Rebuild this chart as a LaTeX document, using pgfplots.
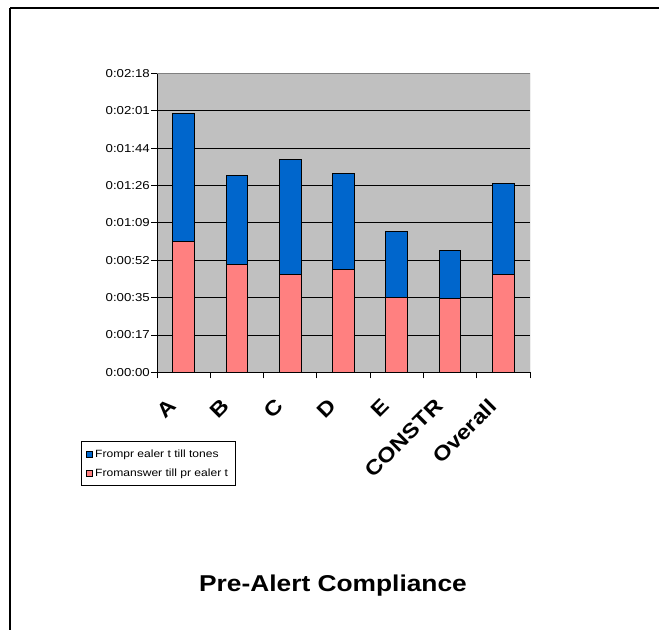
\documentclass[border=0pt]{standalone}
\usepackage{fontspec}
\setmainfont{Liberation Sans}[FakeStretch=1.15]
\usepackage{pgfplots}
\pgfplotsset{compat=1.18}
\definecolor{barblue}{HTML}{0066CC}
\definecolor{barpink}{HTML}{FF8080}
\definecolor{plotgray}{HTML}{C0C0C0}
\definecolor{framegray}{HTML}{808080}

\begin{document}
\begin{tikzpicture}
\useasboundingbox (0bp,0bp) rectangle (659bp,-630bp);
\clip (0bp,0bp) rectangle (659bp,-630bp);
% outer chart frame (continues past the right and bottom edges)
\draw[line width=2bp] (10bp,-8bp) -- (690bp,-8bp);
\draw[line width=2bp] (10bp,-8bp) -- (10bp,-660bp);
\begin{axis}[
  at={(157bp,-372.3bp)}, anchor=south west,
  scale only axis, width=373bp, height=299bp,
  ybar stacked, bar width=0.41,
  xmin=-0.5, xmax=6.5, ymin=0, ymax=138.24,
  axis background/.style={fill=plotgray},
  axis line style={draw=none},
  xtick={-0.5,0.5,...,6.5},
  xticklabels={A,B,C,D,E,CONSTR,Overall},
  x tick label as interval,
  ytick={0,17.28,34.56,51.84,69.12,86.4,103.68,120.96,138.24},
  yticklabels={0:00:00,0:00:17,0:00:35,0:00:52,0:01:09,0:01:26,0:01:44,0:02:01,0:02:18},
  xtick pos=bottom, ytick pos=left,
  tick align=outside, major tick length=6bp,
  tick style={black, line width=0.8bp},
  ymajorgrids, grid style={black, line width=0.8bp},
  yticklabel style={font=\fontsize{11.5bp}{13bp}\selectfont, inner sep=1bp},
  xticklabel style={font=\bfseries\fontsize{20.5bp}{23bp}\selectfont,
    xshift=-16bp, yshift=-19bp, rotate=45, anchor=north east, inner sep=0pt},
  reverse legend,
  legend style={at={(-0.2038,-0.2298)}, anchor=north west,
    font=\fontsize{10.5bp}{12bp}\selectfont, draw=black, line width=0.8bp,
    inner xsep=5bp, inner ysep=6bp, row sep=6bp,
    cells={anchor=west}},
  legend image code/.code={\draw[#1,draw=black,line width=0.8bp] (0bp,-3bp) rectangle (6bp,3bp);},
]
\addplot[fill=barpink, draw=black, line width=1bp] coordinates
  {(0,60.7) (1,49.7) (2,45.0) (3,47.7) (4,34.8) (5,34.0) (6,45.0)};
\addplot[fill=barblue, draw=black, line width=1bp] coordinates
  {(0,59.0) (1,41.3) (2,53.4) (3,44.3) (4,30.5) (5,22.2) (6,42.3)};
\legend{Fromanswer till pr ealer t, Frompr ealer t till tones}
\draw[framegray, line width=1bp] (rel axis cs:0,1) -- (rel axis cs:1,1) -- (rel axis cs:1,0);
\draw[black, line width=1bp] (rel axis cs:0,1) -- (rel axis cs:0,0) -- (rel axis cs:1,0);
\end{axis}
\node[font=\bfseries\fontsize{22.9bp}{26bp}\selectfont, anchor=base]
  at (333bp,-591.7bp) {Pre-Alert Compliance};
\end{tikzpicture}
\end{document}
